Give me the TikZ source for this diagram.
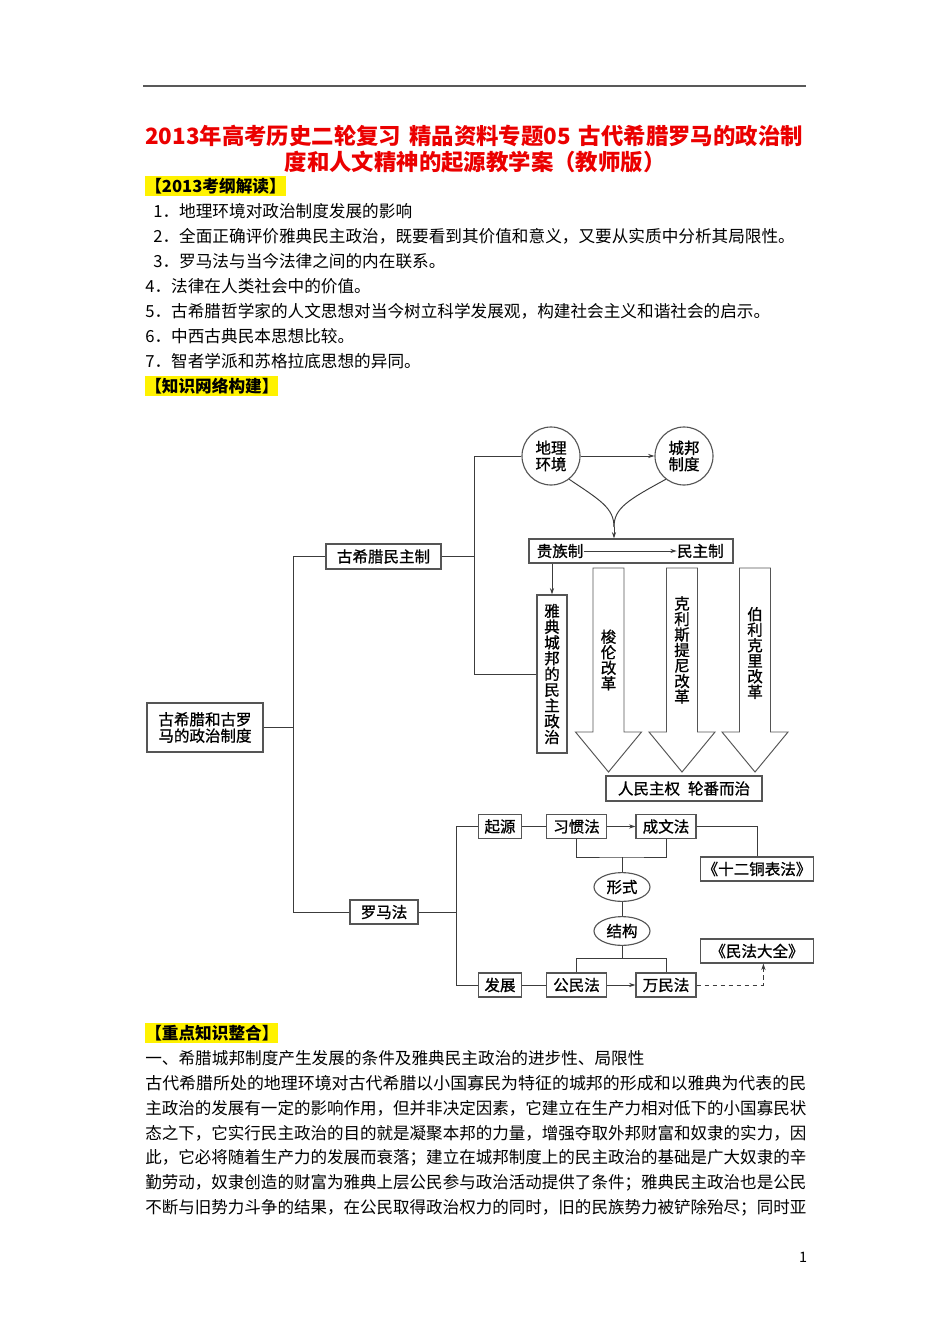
\documentclass[tikz,border=0pt]{standalone}
\usepackage{fontspec}
\usepackage{graphicx}
\setmainfont{Noto Sans CJK SC}
\newfontfamily\diaface[FakeBold=0.9]{Noto Sans CJK SC}
\usetikzlibrary{arrows.meta,positioning,shapes.geometric,calc}
\definecolor{titlered}{RGB}{235,0,0}
\definecolor{linegray}{RGB}{60,60,60}
\definecolor{boxgray}{RGB}{85,85,85}
\newcommand{\bodyfont}{\fontsize{10.4}{14}\selectfont}
\newcommand{\diafont}{\diaface\fontsize{9.7}{10.2}\selectfont}
\newcommand{\fitline}[1]{\resizebox{413.1pt}{\height}{#1}}
\tikzset{
    conn/.style={draw=linegray, line width=0.6pt},
    arr/.style={conn, -{Stealth[length=4pt,width=2.6pt]}},
    box/.style={draw=boxgray, line width=0.7pt, inner sep=0pt, minimum height=15pt, font=\diafont, align=center},
    ring/.style={circle, draw=boxgray, line width=0.7pt, inner sep=0pt, minimum size=36.25pt, font=\diafont, align=center},
    oval/.style={ellipse, draw=boxgray, line width=0.7pt, inner sep=0pt, minimum width=35pt, minimum height=18pt, font=\diafont},
    bigarrow/.style={draw=boxgray, line width=0.6pt, fill=white},
    bodytext/.style={anchor=west, inner sep=0pt, font=\bodyfont},
    hilite/.style={anchor=west, fill=yellow, inner xsep=0pt, inner ysep=1.5pt, font=\bodyfont\bfseries}
}
\begin{document}
\begin{tikzpicture}[x=0.625pt, y=-0.625pt]
    \useasboundingbox (0,0) rectangle (950,1344);
    \fill[white] (0,0) rectangle (950,1344);

    % Header rule and title
    \draw[line width=1.3pt, gray!70!black] (143,86) -- (806,86);
    \node[font=\fontsize{14}{16}\selectfont\bfseries, text=titlered] (title1) at (474,136)
        {2013年高考历史二轮复习\hspace{5pt}精品资料专题05\hspace{5pt}古代希腊罗马的政治制};
    \node[font=\fontsize{14}{16}\selectfont\bfseries, text=titlered] (title2) at (475,162)
        {度和人文精神的起源教学案（教师版）};

    % Exam outline
    \node[hilite] (head1) at (145,186) {【2013考纲解读】};
    \node[bodytext] (item1) at (153,211) {1．地理环境对政治制度发展的影响};
    \node[bodytext] (item2) at (153,236) {2．全面正确评价雅典民主政治，既要看到其价值和意义，又要从实质中分析其局限性。};
    \node[bodytext] (item3) at (153,261) {3．罗马法与当今法律之间的内在联系。};
    \node[bodytext] (item4) at (145,286) {4．法律在人类社会中的价值。};
    \node[bodytext] (item5) at (145,311) {5．古希腊哲学家的人文思想对当今树立科学发展观，构建社会主义和谐社会的启示。};
    \node[bodytext] (item6) at (145,336) {6．中西古典民本思想比较。};
    \node[bodytext] (item7) at (145,361) {7．智者学派和苏格拉底思想的异同。};
    \node[hilite] (head2) at (145,386) {【知识网络构建】};

    % Knowledge network: left column
    \node[box, minimum width=72.5pt, minimum height=30.6pt] (main) at (205,727.5) {古希腊和古罗\\马的政治制度};
    \node[box, minimum width=71.9pt, minimum height=15.6pt] (gxl) at (383.5,556.5) {古希腊民主制};
    \node[box, minimum width=42.5pt] (lmf) at (384,912) {罗马法};

    % Greek democracy
    \node[ring] (geo) at (551,456) {地理\\环境};
    \node[ring] (cb) at (684,456) {城邦\\制度};
    \node[box, minimum width=127.5pt] (gz) at (631,551) {};
    \node[font=\diafont, inner sep=0pt, anchor=west] (guizu) at ([xshift=5pt]gz.west) {贵族制};
    \node[font=\diafont, inner sep=0pt, anchor=east] (minzhu) at ([xshift=-6pt]gz.east) {民主制};
    \node[box, minimum width=18.75pt, minimum height=98.75pt, font=\diaface\fontsize{9.7}{9.85}\selectfont] (yd) at (552,674)
        {雅\\典\\城\\邦\\的\\民\\主\\政\\治};
    \node[box, minimum width=97.5pt, minimum height=15.6pt] (rmzq) at (684,788.5) {人民主权\hspace{5pt}轮番而治};

    % Reform arrows
    \foreach \cx/\ty/\words in {608.5/660/{梭\\伦\\改\\革}, 682/650/{克\\利\\斯\\提\\尼\\改\\革}, 755/653/{伯\\利\\克\\里\\改\\革}} {
        \draw[bigarrow] (\cx-15.5,568) -- (\cx+15.5,568) -- (\cx+15.5,732) -- (\cx+33,732)
            -- (\cx,772) -- (\cx-33,732) -- (\cx-15.5,732) -- cycle;
        \node[font=\diaface\fontsize{9.7}{9.7}\selectfont, align=center, inner sep=0pt] at (\cx,\ty) {\words};
    }

    % Roman law
    \node[box, minimum width=26.9pt] (qy) at (500,826.5) {起源};
    \node[box, minimum width=38pt] (xgf) at (576.5,826.5) {习惯法};
    \node[box, minimum width=37.5pt] (cwf) at (666,826.5) {成文法};
    \node[box, minimum width=70.6pt] (ser) at (757,869) {《十二铜表法》};
    \node[oval] (xs) at (622,887) {形式};
    \node[oval] (jg) at (622,931) {结构};
    \node[box, minimum width=70.6pt] (mfdq) at (757,951) {《民法大全》};
    \node[box, minimum width=26.9pt] (fz) at (500,985) {发展};
    \node[box, minimum width=38pt] (gmf) at (576.5,985) {公民法};
    \node[box, minimum width=37.5pt] (wmf) at (666,985) {万民法};

    % Connectors
    \coordinate (t1) at (293,727.5);
    \coordinate (t2) at (474,556.5);
    \coordinate (t3) at (456,912);
    \coordinate (b1) at (622,857);
    \coordinate (b2) at (622,958);
    \coordinate (join) at (614,527);
    \draw[conn] (main.east) -- (t1);
    \draw[conn] (gxl.west) -| (t1);
    \draw[conn] (lmf.west) -| (t1);
    \draw[conn] (gxl.east) -- (t2);
    \draw[conn] (geo.west) -| (t2);
    \draw[conn] (yd.west) -| (t2);
    \draw[arr] (geo) -- (cb);
    \draw[conn] (geo.-52) .. controls (600,500) and (614,508) .. (join);
    \draw[conn] (cb.-128) .. controls (628,500) and (614,508) .. (join);
    \draw[arr] (join) -- (join |- gz.north);
    \draw[arr] (guizu) -- (minzhu);
    \draw[arr] (yd.north |- gz.south) -- (yd.north);
    \draw[conn] (lmf.east) -- (t3);
    \draw[conn] (qy.west) -| (t3);
    \draw[conn] (fz.west) -| (t3);
    \draw[conn] (qy) -- (xgf);
    \draw[arr] (xgf) -- (cwf);
    \draw[conn] (cwf.east) -| (ser.north);
    \draw[conn] (xgf.south) |- (b1) -| (cwf.south);
    \draw[conn] (b1) -- (xs.north);
    \draw[conn] (xs) -- (jg);
    \draw[conn] (jg.south) -- (b2);
    \draw[conn] (gmf.north) |- (b2) -| (wmf.north);
    \draw[conn] (fz) -- (gmf);
    \draw[arr] (gmf) -- (wmf);
    \draw[arr, dash pattern=on 3pt off 2pt] (wmf.east) -| ([xshift=4pt]mfdq.south);

    % Key knowledge
    \node[hilite] (head3) at (145,1033) {【重点知识整合】};
    \node[bodytext] (sec1) at (145,1058) {一、希腊城邦制度产生发展的条件及雅典民主政治的进步性、局限性};
    \node[bodytext] (par1) at (145,1083) {\fitline{古代希腊所处的地理环境对古代希腊以小国寡民为特征的城邦的形成和以雅典为代表的民}};
    \node[bodytext] (par2) at (145,1108) {\fitline{主政治的发展有一定的影响作用，但并非决定因素，它建立在生产力相对低下的小国寡民状}};
    \node[bodytext] (par3) at (145,1133) {\fitline{态之下，它实行民主政治的目的就是凝聚本邦的力量，增强夺取外邦财富和奴隶的实力，因}};
    \node[bodytext] (par4) at (145,1158) {\fitline{此，它必将随着生产力的发展而衰落；建立在城邦制度上的民主政治的基础是广大奴隶的辛}};
    \node[bodytext] (par5) at (145,1183) {\fitline{勤劳动，奴隶创造的财富为雅典上层公民参与政治活动提供了条件；雅典民主政治也是公民}};
    \node[bodytext] (par6) at (145,1208) {\fitline{不断与旧势力斗争的结果，在公民取得政治权力的同时，旧的民族势力被铲除殆尽；同时亚}};

    % Page number
    \node[font=\fontsize{9}{10}\selectfont, inner sep=0pt] (pageno) at (803,1257) {1};
\end{tikzpicture}
\end{document}
